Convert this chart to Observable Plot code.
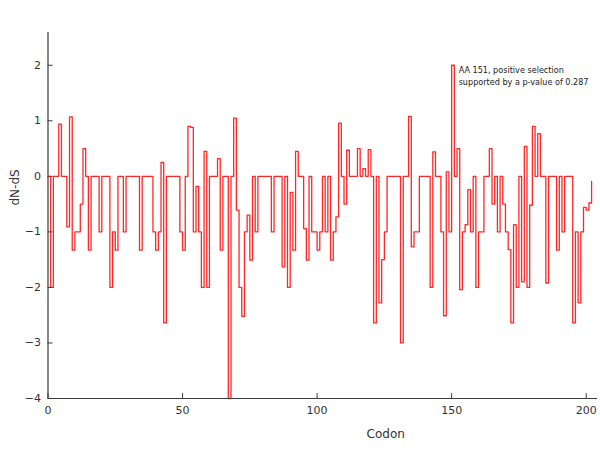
<!DOCTYPE html>
<html>
<head>
<meta charset="utf-8">
<script src="https://cdn.jsdelivr.net/npm/d3@7"></script>
<script src="https://cdn.jsdelivr.net/npm/@observablehq/plot@0.6"></script>
<style>
  body { margin: 0; background: #fff; }
  #chart svg { display: block; }
</style>
</head>
<body>
<div id="chart"></div>
<script>
// dN-dS value per codon position (step after)
const dnds = [
  0, -2, 0, 0, 0.94, 0, 0, -0.91, 1.07, -1.33,
  -1, -1, -0.5, 0.5, 0, -1.33, 0, 0, 0, -1,
  0, 0, 0, -2, -1, -1.33, 0, 0, -1, 0,
  0, 0, 0, 0, -1.33, 0, 0, 0, 0, -1,
  -1.33, -1, 0.25, -2.64, 0, 0, 0, 0, 0, -1,
  -1.33, 0, 0.9, 0.88, -1, -0.18, -1, -2, 0.45, -2,
  0, 0, 0, 0.32, -1.33, 0, 0, -4, 0, 1.05,
  -0.61, -2, -2.52, -1, -0.7, -1.51, 0, -1, 0, 0,
  0, 0, 0, -1, 0, 0, 0, -1.63, 0, -2,
  -0.29, -1.33, 0.45, 0, 0, -0.94, -1.51, 0, -1, -1,
  -1.33, -1, 0, -1, 0, -1.51, -1, -0.73, 0.96, 0,
  -0.5, 0.47, 0, 0, 0, 0.5, 0, 0.14, 0, 0.48,
  0, -2.64, 0, -2.28, -1.5, -1, 0, 0, 0, 0,
  0, -3, 0, 0, 1.08, -1.27, -1, -1, 0, 0,
  0, 0, -2, 0.44, 0, 0, -1, -2.51, 0.08, -1,
  2.0, 0, 0.5, -2.04, -1, -0.87, -0.24, -1, 0, -2,
  -1, -1, 0, 0, 0.5, -0.5, 0, -1, 0, -0.5,
  -1, -1.32, -2.64, -0.87, -2, 0, -1.9, 0.54, -2, -0.52,
  0.9, 0, 0.77, 0, 0, -1.92, 0, 0, 0, -1.33,
  0, -1, 0, 0, 0, -2.64, -1, -2.28, -1, -0.56,
  -0.61, -0.48, -0.09
];
const xTicks = [0, 50, 100, 150, 200];
const yTicks = [-4, -3, -2, -1, 0, 1, 2];
const xLabel = "Codon";
const yLabel = "dN-dS";
const noteX = [152.6];
const noteY = [1.82];
const noteText = ["AA 151, positive selection\nsupported by a p-value of 0.287"];

const data = dnds.map((v, i) => ({codon: i, value: v}));
const notes = noteText.map((t, i) => ({x: noteX[i], y: noteY[i], text: t}));

const W = 600, H = 450;
const mL = 47.5, mR = 3, mT = 32, mB = 52;
const innerW = W - mL - mR, innerH = H - mT - mB;
const axisColor = "#3a3a3a";
const font = "DejaVu Sans, sans-serif";

const chart = Plot.plot({
  width: W,
  height: H,
  marginLeft: mL,
  marginRight: mR,
  marginTop: mT,
  marginBottom: mB,
  style: {fontFamily: font, fontSize: "11px", color: "#333", background: "#fff"},
  x: {domain: [0, 204.2]},
  y: {domain: [-4, 2.59]},
  marks: [
    Plot.axisX(xTicks, {tickSize: 0, tickPadding: 8, tickFormat: "d", label: null, fontSize: 11, fill: "#333"}),
    Plot.axisY(yTicks, {tickSize: 0, tickPadding: 7, tickFormat: "d", label: null, fontSize: 11, fill: "#333"}),
    Plot.tickX(xTicks, {x: d => d, insetTop: innerH - 5, stroke: axisColor}),
    Plot.tickY(yTicks, {y: d => d, insetRight: innerW - 5, stroke: axisColor}),
    Plot.lineY(data, {x: "codon", y: "value", curve: "step-after", stroke: "#ff0000", strokeWidth: 1.3, strokeOpacity: 0.85}),
    Plot.ruleX([0], {stroke: axisColor, strokeWidth: 1.2}),
    Plot.ruleY([-4], {stroke: axisColor, strokeWidth: 1.2}),
    Plot.text(notes, {x: "x", y: "y", text: "text", textAnchor: "start", lineAnchor: "middle", lineHeight: 1.5, fontSize: 8.1, fill: "#222"}),
    Plot.text([xLabel], {frameAnchor: "bottom", text: d => d, dx: 63, dy: 39, fontSize: 12, fill: "#333"}),
    Plot.text([yLabel], {frameAnchor: "left", text: d => d, rotate: -90, dx: -33, dy: -10, fontSize: 12, fill: "#333"})
  ]
});
document.getElementById("chart").appendChild(chart);
</script>
</body>
</html>
